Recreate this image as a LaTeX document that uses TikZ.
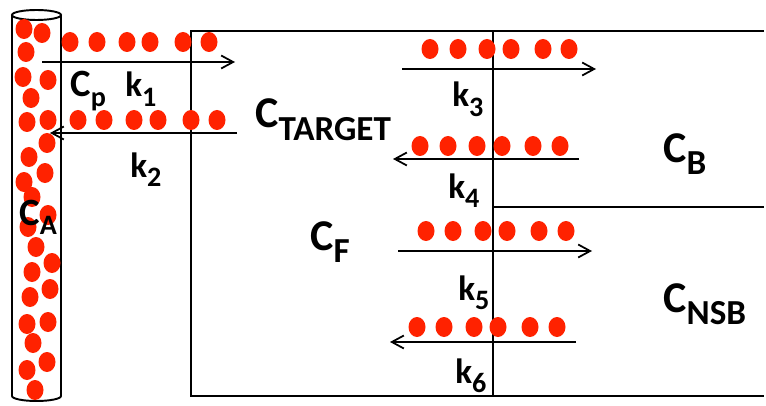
\documentclass[tikz,border=0pt]{standalone}
\usepackage{fontspec}
\setmainfont{Carlito}
\usetikzlibrary{arrows.meta}
\definecolor{DotRed}{RGB}{255,34,0}
\newcommand{\csub}[1]{\raisebox{-7pt}{\fontsize{20}{22}\selectfont #1}}
\newcommand{\ksub}[1]{\raisebox{-5.5pt}{\fontsize{16}{18}\selectfont #1}}
\tikzset{
  dot/.style={fill=DotRed},
  wall/.style={line width=1.1pt, draw=black},
  flux/.style={-{Straight Barb[length=2.4mm, width=2.6mm]}, line width=1pt},
  conc/.style={font=\fontsize{25}{28}\selectfont\bfseries, inner sep=0pt, anchor=base west},
  smallconc/.style={font=\fontsize{22}{24}\selectfont\bfseries, inner sep=0pt, anchor=base west},
  rate/.style={font=\fontsize{20}{22}\selectfont\bfseries, inner sep=0pt, anchor=base west}
}

\begin{document}
\begin{tikzpicture}[x=0.02cm, y=-0.02cm]
\useasboundingbox (0,0) rectangle (766,405);
% blood vessel
\draw[wall] (36.5,15) ellipse [x radius=24.5, y radius=5];
\draw[wall] (12,15) -- (12,396) arc[start angle=180, end angle=0, x radius=24.5, y radius=5] -- (61,15);
% tissue compartments
\draw[wall] (764,31) -- (191,31) -- (191,396) -- (764,396);
\draw[wall] (493,31) -- (493,396);
\draw[wall] (493,207) -- (764,207);
% particles in the vessel
\foreach \x/\y in {24/29, 42/33, 26/52, 23/77, 48/80, 31/98, 27/122, 48/120, 47/143,
  29/157, 45/173, 24/182, 32/197, 48/215, 28/227, 36/247, 52/263, 32/272, 50/289,
  30/297, 48/322, 27/324, 33/343, 47/362, 27/370, 35/390}
  \fill[dot] (\x,\y) ellipse [x radius=8.5, y radius=10];
% particles moving across
\foreach \x in {70, 97, 127, 150, 183, 209}
  \fill[dot] (\x,42) ellipse [x radius=8.5, y radius=10];
\foreach \x in {78, 104, 134, 158, 191, 217}
  \fill[dot] (\x,120) ellipse [x radius=8.5, y radius=10];
\foreach \x in {430, 458, 487, 511, 543, 569}
  \fill[dot] (\x,49) ellipse [x radius=8.5, y radius=10];
\foreach \x in {420, 448, 477, 502, 533, 560}
  \fill[dot] (\x,146) ellipse [x radius=8.5, y radius=10];
\foreach \x in {426, 453, 483, 507, 539, 566}
  \fill[dot] (\x,231) ellipse [x radius=8.5, y radius=10];
\foreach \x in {417, 444, 474, 498, 530, 557}
  \fill[dot] (\x,327) ellipse [x radius=8.5, y radius=10];
% rate arrows
\coordinate (k1a) at (42,62);   \coordinate (k1b) at (235,62);
\coordinate (k2a) at (237,133); \coordinate (k2b) at (50,133);
\coordinate (k3a) at (402,69);  \coordinate (k3b) at (596,69);
\coordinate (k4a) at (579,159); \coordinate (k4b) at (393,159);
\coordinate (k5a) at (398,251); \coordinate (k5b) at (592,251);
\coordinate (k6a) at (576,342); \coordinate (k6b) at (390,342);
\draw[flux] (k1a) -- (k1b);
\draw[flux] (k2a) -- (k2b);
\draw[flux] (k3a) -- (k3b);
\draw[flux] (k4a) -- (k4b);
\draw[flux] (k5a) -- (k5b);
\draw[flux] (k6a) -- (k6b);
% labels
\node[smallconc] (cp) at (70,97) {C\ksub{p}};
\node[smallconc] (ca) at (19,225) {C\ksub{A}};
\node[conc] (ctarget) at (255,128) {C\csub{TARGET}};
\node[conc] (cf) at (310,250) {C\csub{F}};
\node[conc] (cb) at (663,162) {C\csub{B}};
\node[conc] (cnsb) at (663,312) {C\csub{NSB}};
\node[rate] (k1) at (125,97) {k\ksub{1}};
\node[rate] (k2) at (130,177) {k\ksub{2}};
\node[rate] (k3) at (452,107) {k\ksub{3}};
\node[rate] (k4) at (448,198) {k\ksub{4}};
\node[rate] (k5) at (458,300) {k\ksub{5}};
\node[rate] (k6) at (455,383) {k\ksub{6}};
\end{tikzpicture}
\end{document}
